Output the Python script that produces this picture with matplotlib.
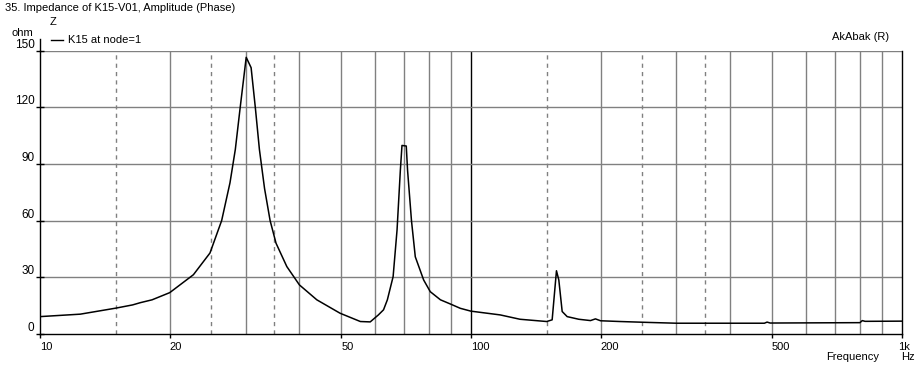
import matplotlib
matplotlib.use("Agg")
import matplotlib.pyplot as plt
import matplotlib.transforms as mtransforms
from matplotlib.ticker import FixedLocator, NullLocator

# impedance curve (Hz, ohm)
freq = [10, 12.4, 15, 16.4, 17.1, 18.2, 20, 22.7, 24.8, 26.4, 27.6, 28.4, 29.15,
        30.1, 30.9, 31.6, 32.3, 33.2, 34.2, 35.3, 37.4, 40.0, 43.9, 49.7, 55.4,
        58.4, 61, 62.7, 64, 66, 67.4, 68.6, 69.2, 70.8, 71.3, 72.8, 74.3, 77.7,
        80.5, 85, 89.6, 94.5, 100, 117, 130, 150, 154.4, 158, 160, 162.9, 167.3,
        178, 189.5, 194.6, 200, 222, 260, 300, 480, 487, 495, 800, 810, 822, 1000]
ohm = [9.1, 10.4, 13.6, 15.3, 16.5, 18, 21.8, 31.3, 42.8, 60, 80, 97.7, 120,
       146.5, 141, 120, 97.7, 77, 60, 48, 35.6, 25.9, 18, 10.9, 6.5,
       6.3, 10, 12.7, 18, 30.3, 55, 86.6, 99.8, 99.5, 86.6, 60, 40.8, 28.5,
       22.3, 18, 15.8, 13.5, 12, 10, 7.7, 6.5, 7.4, 33.4, 28.5, 11.8, 9.1,
       7.7, 7, 7.9, 6.9, 6.5, 6.0, 5.6, 5.6, 6.2, 5.7, 5.9, 7.0, 6.6, 6.7]

y_ticks = [0, 30, 60, 90, 120, 150]
x_ticks = [10, 20, 50, 100, 200, 500, 1000]
x_labels = ["10", "20", "50", "100", "200", "500", "1k"]
solid_grid = [20, 30, 40, 50, 60, 70, 80, 90, 200, 300, 400, 500, 600, 700, 800, 900]
dashed_grid = [15, 25, 35, 150, 250, 350]

plt.rcParams["font.family"] = ["Liberation Sans", "DejaVu Sans"]
plt.rcParams["font.size"] = 8

fig = plt.figure(figsize=(9.24, 3.71), dpi=100)
ax = fig.add_axes([0.0433, 0.1003, 0.9326, 0.763])
ax.set_xscale("log")
ax.set_xlim(10, 1000)
ax.set_ylim(0, 150)

grey = "#808080"
for f in solid_grid:
    ax.axvline(f, color=grey, lw=1, zorder=1)
for f in dashed_grid:
    ax.axvline(f, color=grey, lw=1, ls=(0, (3, 3)), zorder=1)
ax.axvline(100, color="black", lw=1, zorder=1)
for v in y_ticks[1:]:
    ax.axhline(v, color=grey, lw=1, zorder=1)

ax.plot(freq, ohm, color="black", lw=1.1, zorder=3)

ax.xaxis.set_major_locator(FixedLocator(x_ticks))
ax.xaxis.set_minor_locator(NullLocator())
ax.set_xticklabels(x_labels)
ax.set_yticks(y_ticks)
ax.tick_params(axis="x", direction="out", length=3, pad=3, width=1)
ax.tick_params(axis="y", direction="inout", length=6, pad=1, width=1, labelsize=8.5)
for lab in ax.get_xticklabels():
    lab.set_horizontalalignment("left")
last = ax.get_xticklabels()[-1]
last.set_transform(last.get_transform() + mtransforms.ScaledTranslation(-4 / 100, 0, fig.dpi_scale_trans))
for lab in ax.get_yticklabels():
    lab.set_verticalalignment("bottom")

for s in ["left", "bottom", "right"]:
    ax.spines[s].set_color("black")
    ax.spines[s].set_linewidth(1)
ax.spines["top"].set_visible(False)
ax.plot([0, 0], [1, 1.04], transform=ax.transAxes, color="black", lw=1, clip_on=False)

fig.text(5 / 924, 1 - 8 / 371, "35. Impedance of K15-V01, Amplitude (Phase)", va="center", ha="left")
fig.text(50 / 924, 1 - 22 / 371, "Z", va="center", ha="left")
fig.text(12 / 924, 1 - 33 / 371, "ohm", va="center", ha="left")
fig.add_artist(plt.Line2D([51 / 924, 63 / 924], [1 - 40 / 371, 1 - 40 / 371], color="black", lw=1))
fig.text(68 / 924, 1 - 40 / 371, "K15 at node=1", va="center", ha="left")
fig.text(832 / 924, 1 - 37 / 371, "AkAbak (R)", va="center", ha="left")
fig.text(826 / 924, 1 - 357 / 371, "Frequency", va="center", ha="left")
fig.text(901 / 924, 1 - 357 / 371, "Hz", va="center", ha="left")

fig.savefig("out.png", dpi=100)
